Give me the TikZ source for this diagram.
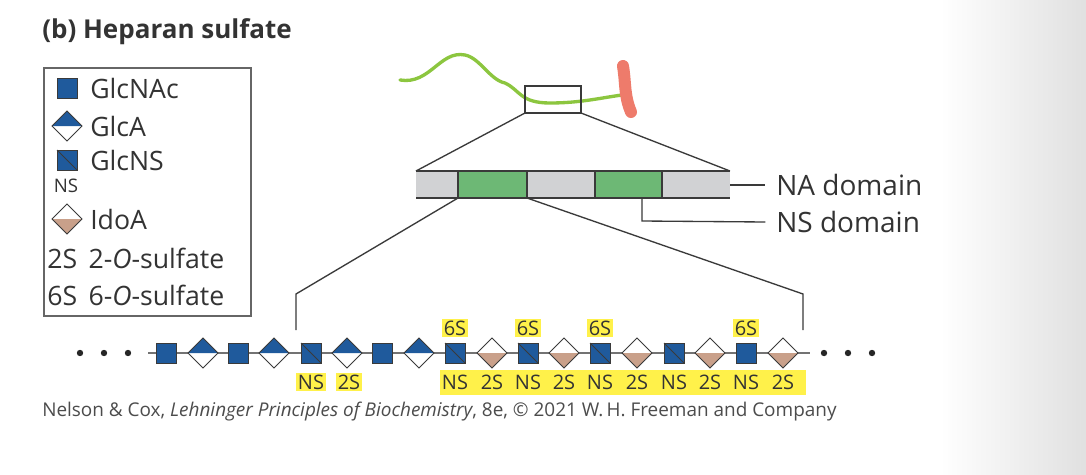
\documentclass[tikz,border=0pt]{standalone}
\usepackage{fontspec}
\setmainfont{Open Sans}
\definecolor{bl}{HTML}{1F5A9C}
\definecolor{tan}{HTML}{C9A08A}
\definecolor{gr}{HTML}{6DB875}
\definecolor{lg}{HTML}{8CC63F}
\definecolor{rd}{HTML}{EE7B6B}
\definecolor{gy}{HTML}{D1D2D4}
\definecolor{yl}{HTML}{FFF14A}
\definecolor{ln}{HTML}{3A3A3A}
\newcommand\mySq[2]{\filldraw[fill=bl,draw=ln,line width=0.7pt] (#1-10,#2-10) rectangle (#1+10,#2+10);}
\newcommand\myNS[2]{\filldraw[fill=bl,draw=ln,line width=0.7pt] (#1-10,#2-10) rectangle (#1+10,#2+10); \draw[ln,line width=0.7pt] (#1-10,#2-10)--(#1+10,#2+10);}
\newcommand\myGA[2]{\fill[white] (#1-15,#2)--(#1,#2-15)--(#1+15,#2)--(#1,#2+15)--cycle; \fill[bl] (#1-15,#2)--(#1,#2-15)--(#1+15,#2)--cycle; \draw[ln,line width=0.7pt] (#1-15,#2)--(#1,#2-15)--(#1+15,#2)--(#1,#2+15)--cycle;}
\newcommand\myIA[2]{\fill[white] (#1-15,#2)--(#1,#2-15)--(#1+15,#2)--(#1,#2+15)--cycle; \fill[tan] (#1-15,#2)--(#1+15,#2)--(#1,#2+15)--cycle; \draw[ln,line width=0.7pt] (#1-15,#2)--(#1,#2-15)--(#1+15,#2)--(#1,#2+15)--cycle;}
\tikzset{lab/.style={fill=yl,inner sep=1.5pt,font=\fontsize{15}{16}\selectfont,text=black!80},
 leg/.style={anchor=west,inner sep=0,font=\fontsize{20}{22}\selectfont,text=black!80},
 dom/.style={anchor=west,inner sep=0,font=\fontsize{21}{24}\selectfont,text=black!80}}
\begin{document}
\begin{tikzpicture}[x=0.75pt,y=-0.75pt]
\useasboundingbox (0,0) rectangle (1086,475);
\fill[white] (0,0) rectangle (1086,475);
\shade[left color=white,right color=black!12] (940,0) rectangle (1086,475);
% title
\node[anchor=west,inner sep=0,font=\bfseries\fontsize{19.5}{22}\selectfont,text=black!80] (title) at (42,32) {(b) Heparan sulfate};
% legend
\draw[black!60,line width=0.8pt] (44,68) rectangle (251,316);
\mySq{67}{88}
\node[leg] (l1) at (90,88) {GlcNAc};
\myGA{67}{126}
\node[leg] (l2) at (90,126) {GlcA};
\myNS{67}{160}
\node[leg] (l3) at (90,160) {GlcNS};
\node[inner sep=0,font=\fontsize{14}{15}\selectfont,text=black!80] (l3b) at (66,186) {NS};
\myIA{67}{219}
\node[leg] (l4) at (90,219) {IdoA};
\node[leg] (l5) at (47,258) {2S\, 2-\textit{O}-sulfate};
\node[leg] (l6) at (47,295) {6S\, 6-\textit{O}-sulfate};
% green chain and red rod
\draw[lg,line width=2.5pt,line cap=round] (400,80) .. controls (430,85) and (440,50) .. (465,55) .. controls (480,58) and (490,80) .. (505,83) .. controls (520,90) and (520,103) .. (550,103) .. controls (580,103) and (600,98) .. (622,95);
\draw[rd,line width=9pt,line cap=round] (623,66) .. controls (626,85) and (624,95) .. (631,112);
\draw[ln,line width=1pt] (525,86) rectangle (581,113);
\coordinate (b1) at (525,113); \coordinate (b2) at (581,113);
% bar
\fill[gy] (416,171) rectangle (730,198);
\fill[gr] (458,171) rectangle (527,198);
\fill[gr] (595,171) rectangle (662,198);
\draw[ln,line width=1pt] (458,171)--(458,198) (527,171)--(527,198) (595,171)--(595,198) (662,171)--(662,198);
\draw[ln,line width=1.5pt] (416,171)--(730,171) (416,198)--(730,198);
\coordinate (c1) at (416,171); \coordinate (c2) at (730,171);
\draw[ln,line width=1pt] (b1)--(c1) (b2)--(c2);
\node[dom] (na) at (776,185) {NA domain};
\node[dom] (ns) at (776,222) {NS domain};
\draw[ln,line width=1pt] (730,185)--([xshift=-8pt]na.west);
\draw[ln,line width=1pt] (642,198)--(642,221)--([xshift=-8pt]ns.west);
\draw[ln,line width=1pt] (458,198)--(296,294)--(296,330);
\draw[ln,line width=1pt] (527,198)--(803,294)--(803,330);
% chain
\draw[black!55,line width=1pt] (148,353)--(810,353);
\foreach \x in {80,104,128,824,848,872} \fill[black!85] (\x,353) circle (3.2);
\mySq{166}{353} \myGA{203}{353} \mySq{238}{353} \myGA{274}{353}
\myNS{311}{353} \myGA{347}{353} \mySq{382}{353} \myGA{419}{353}
\myNS{455}{353} \myIA{492}{353} \myNS{528}{353} \myIA{564}{353}
\myNS{600}{353} \myIA{637}{353} \myNS{674}{353} \myIA{710}{353}
\mySq{746}{353} \myIA{783}{353}
% labels
\fill[yl] (440,370) rectangle (806,395);
\node[lab] (n1) at (311,382) {NS};
\node[lab] (n2) at (349,382) {2S};
\foreach \x/\t in {455/NS,492/2S,528/NS,564/2S,600/NS,637/2S,674/NS,710/2S,746/NS,783/2S}
  \node[lab,fill=none] at (\x,382) {\t};
\foreach \x in {455,528,600,746} \node[lab] at (\x,328) {6S};
% caption
\node[anchor=west,inner sep=0,font=\fontsize{14.2}{16}\selectfont,text=black!70] (cap) at (42,412) {Nelson \& Cox, \textit{Lehninger Principles of Biochemistry}, 8e, © 2021 W.\,H. Freeman and Company};
\end{tikzpicture}
\end{document}
